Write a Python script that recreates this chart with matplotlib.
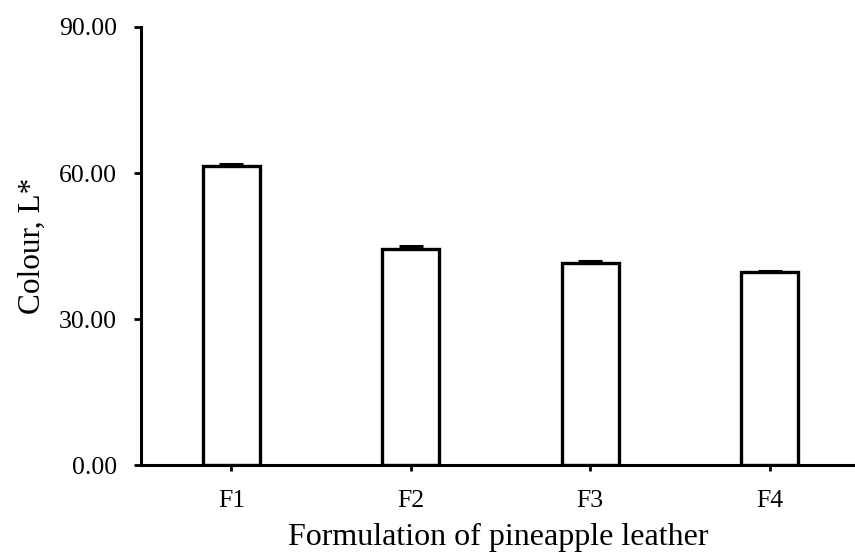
import numpy as np
import matplotlib
matplotlib.use("Agg")
import matplotlib.pyplot as plt

formulations = ["F1", "F2", "F3", "F4"]
lightness = [61.5, 44.4, 41.5, 39.6]
lightness_err = [0.4, 0.6, 0.35, 0.3]

plt.rcParams['font.family'] = ['Liberation Serif', 'DejaVu Serif']

fig = plt.figure(figsize=(8.55, 5.58), dpi=100)
ax = fig.add_axes([0.1646, 0.1658, 1.0 - 0.1646, 0.952 - 0.1658])

x = np.arange(len(formulations))
ax.bar(x, lightness, width=0.318, color="white", edgecolor="black", linewidth=2.4, zorder=2)
ax.errorbar(x, lightness, yerr=[np.zeros(len(x)), lightness_err], fmt="none",
            ecolor="black", elinewidth=2, capsize=8.5, capthick=2.2, zorder=3)

ax.set_xlim(-0.505, 3.475)
ax.set_ylim(0, 90)
ax.set_yticks([0, 30, 60, 90])
ax.set_yticklabels(["0.00", "30.00", "60.00", "90.00"])
ax.set_xticks(x)
ax.set_xticklabels(formulations)

for side in ["top", "right"]:
    ax.spines[side].set_visible(False)
for side in ["left", "bottom"]:
    ax.spines[side].set_linewidth(2.2)
ax.patch.set_alpha(0)

ax.tick_params(axis="y", direction="out", length=5, width=2, labelsize=18.5, pad=12)
ax.tick_params(axis="x", direction="out", length=4.5, width=2, labelsize=18.5, pad=13)

ax.set_xlabel("Formulation of pineapple leather", fontsize=23, labelpad=8)
ax.set_ylabel("Colour, L*", fontsize=22.5, labelpad=9)

fig.savefig("out.png", dpi=100)
